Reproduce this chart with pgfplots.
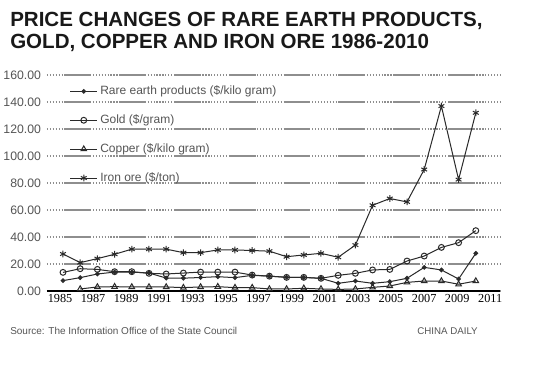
\documentclass[border=0pt]{standalone}
\usepackage{fontspec}
\setmainfont{Liberation Sans}
\newfontfamily\lserif{Liberation Serif}
\usepackage{pgfplots}
\usepackage{pgfplotstable}
\pgfplotsset{compat=1.18}
\definecolor{linec}{HTML}{2A2A2A}
\definecolor{gridc}{HTML}{8E8E8E}
\definecolor{labc}{HTML}{555555}

\pgfplotstableread{
year val
1986 7.7
1987 9.9
1988 12.6
1989 14.0
1990 14.0
1991 13.3
1992 9.6
1993 9.5
1994 10.0
1995 10.6
1996 9.9
1997 11.6
1998 11.0
1999 10.2
2000 10.0
2001 9.4
2002 5.7
2003 7.4
2004 5.7
2005 6.9
2006 9.4
2007 17.5
2008 15.6
2009 8.9
2010 27.9
}\rareearth

\pgfplotstableread{
year val
1986 13.8
1987 16.5
1988 16.0
1989 14.3
1990 14.3
1991 13.1
1992 12.6
1993 13.3
1994 14.0
1995 14.0
1996 14.0
1997 11.8
1998 11.0
1999 10.1
2000 10.1
2001 9.4
2002 11.6
2003 13.1
2004 15.6
2005 16.0
2006 22.2
2007 25.9
2008 32.3
2009 35.8
2010 44.7
}\gold

\pgfplotstableread{
year val
1987 1.5
1988 3.0
1989 3.2
1990 3.0
1991 3.0
1992 3.0
1993 2.5
1994 3.0
1995 3.2
1996 2.5
1997 2.5
1998 1.5
1999 1.5
2000 2.0
2001 1.5
2002 1.2
2003 1.5
2004 2.7
2005 3.7
2006 6.4
2007 7.4
2008 7.4
2009 5.0
2010 7.4
}\copper

\pgfplotstableread{
year val
1986 27.4
1987 21.0
1988 24.0
1989 27.2
1990 31.0
1991 31.0
1992 31.0
1993 28.4
1994 28.4
1995 30.4
1996 30.4
1997 30.0
1998 29.5
1999 25.4
2000 26.7
2001 27.9
2002 25.0
2003 34.0
2004 63.5
2005 68.5
2006 66.0
2007 90.0
2008 137.0
2009 82.5
2010 132.0
}\ironore

\begin{document}
\begin{tikzpicture}
\path[use as bounding box, fill=white] (0,0) rectangle (410.25pt,273.75pt);
\node[anchor=base west, inner sep=0pt, font=\fontsize{15.4}{16}\bfseries, text=black!90] at (7.5pt,253.5pt) {PRICE CHANGES OF RARE EARTH PRODUCTS,};
\node[anchor=base west, inner sep=0pt, font=\fontsize{15.4}{16}\bfseries, text=black!90] at (7.5pt,237pt) {GOLD, COPPER AND IRON ORE 1986-2010};
\node[anchor=base west, inner sep=0pt, font=\fontsize{7.5}{9}\selectfont, text=labc] at (7.5pt,23.25pt) {Source: The Information Office of the State Council};
\node[anchor=base east, inner sep=0pt, font=\fontsize{7.3}{9}\selectfont, text=labc] at (358.5pt,23.25pt) {CHINA DAILY};
\begin{axis}[
  at={(35.25pt,55.5pt)}, anchor=south west,
  scale only axis, width=339.75pt, height=162pt,
  xmin=1985.07, xmax=2011.407, ymin=0, ymax=160,
  axis x line*=bottom, axis y line*=left,
  y axis line style={draw=none},
  x axis line style={draw=black, line width=1.1pt, -},
  major tick length=0pt,
  ytick={0,20,...,160},
  yticklabel={\pgfmathprintnumber[fixed,fixed zerofill,precision=2]{\tick}},
  /pgf/number format/assume math mode=true,
  yticklabel style={font=\fontsize{9.2}{10}\selectfont, text=labc, xshift=-1pt},
  xtick={1985.83,1987.75,1989.67,1991.60,1993.52,1995.45,1997.37,1999.30,2001.22,2003.15,2005.07,2007.00,2008.92,2010.84},
  xticklabels={1985,1987,1989,1991,1993,1995,1997,1999,2001,2003,2005,2007,2009,2011},
  xticklabel style={font=\lserif\fontsize{9.2}{10}\selectfont, text=black, yshift=1pt},
  ymajorgrids,
  grid style={gridc, line width=0.9pt, dash pattern=on 20pt off 1.3pt on 0.9pt off 1.3pt on 0.9pt off 1.3pt on 0.9pt off 1.3pt on 0.9pt off 1.3pt on 0.9pt off 1.3pt on 0.9pt off 1.3pt on 0.9pt off 1.3pt on 0.9pt off 1.3pt on 0.9pt off 1.3pt, dash phase=28pt},
  legend style={at={(axis description cs:0,1)}, anchor=north west, xshift=14pt, yshift=-4pt,
    draw=none, fill=none, font=\fontsize{9}{10}\selectfont, text=labc, row sep=9.5pt},
  legend cell align=left,
  legend image code/.code={\draw[mark repeat=2,mark phase=2,#1] plot coordinates {(0pt,0pt) (10pt,0pt) (20pt,0pt)};},
  every axis plot/.append style={linec, line width=0.75pt},
]
\addplot[mark=*, mark size=1.4pt] table[x=year,y=val] {\rareearth};
\addlegendentry{Rare earth products (\$/kilo gram)}
\addplot[mark=o, mark size=2.2pt, mark options={fill=white}] table[x=year,y=val] {\gold};
\addlegendentry{Gold (\$/gram)}
\addplot[mark=triangle, mark size=2.4pt, mark options={fill=white}] table[x=year,y=val] {\copper};
\addlegendentry{Copper (\$/kilo gram)}
\addplot[mark=asterisk, mark size=2.5pt] table[x=year,y=val] {\ironore};
\addlegendentry{Iron ore (\$/ton)}
\end{axis}
\end{tikzpicture}
\end{document}
